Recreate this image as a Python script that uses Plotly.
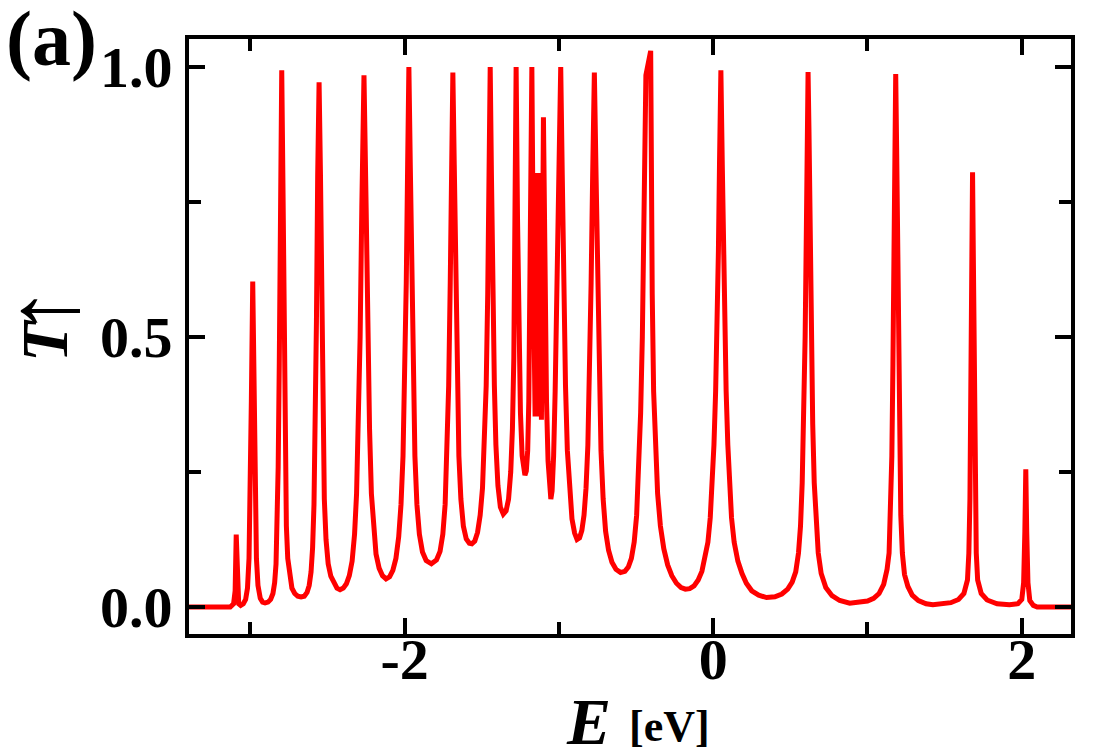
import plotly.graph_objects as go

# ---- data (E in eV, spin-up transmission) ----
energy_ev = [
    -3.397, -3.130, -3.108, -3.098, -3.091, -3.084, -3.075, -3.062,
    -3.045, -3.030, -3.018, -3.008, -3.000, -2.993, -2.984, -2.975,
    -2.968, -2.960, -2.950, -2.935, -2.920, -2.904, -2.885, -2.868,
    -2.853, -2.842, -2.833, -2.826, -2.819, -2.812, -2.805, -2.796,
    -2.787, -2.780, -2.773, -2.766, -2.757, -2.745, -2.730, -2.712,
    -2.692, -2.671, -2.650, -2.632, -2.618, -2.606, -2.596, -2.587,
    -2.579, -2.571, -2.563, -2.554, -2.545, -2.537, -2.529, -2.520,
    -2.509, -2.495, -2.478, -2.458, -2.438, -2.418, -2.397, -2.377,
    -2.358, -2.340, -2.324, -2.311, -2.299, -2.288, -2.277, -2.263,
    -2.249, -2.238, -2.227, -2.215, -2.201, -2.185, -2.165, -2.143,
    -2.120, -2.097, -2.076, -2.056, -2.038, -2.023, -2.010, -1.999,
    -1.989, -1.980, -1.972, -1.963, -1.954, -1.944, -1.933, -1.920,
    -1.904, -1.884, -1.860, -1.826, -1.793, -1.770, -1.752, -1.737,
    -1.725, -1.714, -1.704, -1.695, -1.687, -1.678, -1.669, -1.659,
    -1.648, -1.635, -1.619, -1.600, -1.580, -1.564, -1.545, -1.527,
    -1.510, -1.495, -1.482, -1.471, -1.461, -1.452, -1.445, -1.437,
    -1.428, -1.418, -1.408, -1.395, -1.379, -1.360, -1.342, -1.326,
    -1.312, -1.301, -1.292, -1.284, -1.277, -1.268, -1.259, -1.249,
    -1.238, -1.228, -1.220, -1.211, -1.202, -1.195, -1.188, -1.181,
    -1.175, -1.165, -1.154, -1.143, -1.133, -1.126, -1.113, -1.100,
    -1.090, -1.080, -1.070, -1.060, -1.052, -1.044, -1.034, -1.024,
    -1.013, -1.002, -0.988, -0.978, -0.968, -0.957, -0.945, -0.931,
    -0.915, -0.898, -0.882, -0.866, -0.851, -0.837, -0.824, -0.812,
    -0.801, -0.791, -0.781, -0.770, -0.759, -0.749, -0.739, -0.727,
    -0.713, -0.697, -0.678, -0.656, -0.630, -0.600, -0.572, -0.550,
    -0.530, -0.512, -0.496, -0.482, -0.470, -0.459, -0.449, -0.440,
    -0.436, -0.405, -0.401, -0.395, -0.386, -0.375, -0.360, -0.342,
    -0.320, -0.295, -0.268, -0.238, -0.208, -0.180, -0.152, -0.124,
    -0.097, -0.073, -0.052, -0.034, -0.019, -0.006, 0.005, 0.016,
    0.026, 0.034, 0.041, 0.050, 0.059, 0.066, 0.074, 0.084,
    0.095, 0.106, 0.119, 0.136, 0.160, 0.187, 0.215, 0.250,
    0.295, 0.346, 0.400, 0.445, 0.483, 0.512, 0.535, 0.553,
    0.566, 0.577, 0.587, 0.596, 0.604, 0.610, 0.615, 0.621,
    0.628, 0.636, 0.645, 0.655, 0.667, 0.681, 0.700, 0.730,
    0.770, 0.820, 0.885, 0.950, 1.000, 1.040, 1.075, 1.105,
    1.127, 1.140, 1.150, 1.158, 1.165, 1.171, 1.177, 1.183,
    1.189, 1.195, 1.201, 1.208, 1.216, 1.226, 1.240, 1.262,
    1.290, 1.330, 1.380, 1.424, 1.480, 1.540, 1.590, 1.625,
    1.648, 1.657, 1.664, 1.671, 1.676, 1.681, 1.686, 1.691,
    1.698, 1.705, 1.714, 1.737, 1.775, 1.840, 1.920, 1.975,
    2.000, 2.012, 2.020, 2.026, 2.032, 2.040, 2.052, 2.075,
    2.100, 2.319,
]

transmission_up = [
    0.000, 0.000, 0.006, 0.030, 0.134, 0.030, 0.006, 0.003,
    0.006, 0.014, 0.035, 0.090, 0.200, 0.380, 0.603, 0.380,
    0.200, 0.090, 0.040, 0.016, 0.009, 0.0075, 0.009, 0.014,
    0.025, 0.045, 0.080, 0.140, 0.260, 0.450, 0.750, 0.994,
    0.750, 0.450, 0.260, 0.150, 0.090, 0.055, 0.035, 0.025,
    0.020, 0.0185, 0.020, 0.027, 0.040, 0.065, 0.110, 0.190,
    0.330, 0.530, 0.800, 0.972, 0.800, 0.530, 0.330, 0.200,
    0.125, 0.080, 0.057, 0.043, 0.035, 0.032, 0.035, 0.043,
    0.058, 0.085, 0.135, 0.210, 0.330, 0.500, 0.740, 0.985,
    0.740, 0.500, 0.330, 0.210, 0.140, 0.098, 0.072, 0.058,
    0.052, 0.056, 0.068, 0.090, 0.130, 0.190, 0.280, 0.410,
    0.600, 0.820, 1.000, 0.820, 0.600, 0.410, 0.280, 0.190,
    0.135, 0.102, 0.086, 0.080, 0.087, 0.103, 0.135, 0.190,
    0.280, 0.410, 0.600, 0.820, 0.990, 0.820, 0.600, 0.410,
    0.280, 0.200, 0.150, 0.126, 0.118, 0.117, 0.122, 0.138,
    0.170, 0.220, 0.300, 0.410, 0.580, 0.800, 1.000, 0.800,
    0.580, 0.410, 0.300, 0.225, 0.185, 0.172, 0.178, 0.200,
    0.250, 0.330, 0.460, 0.680, 1.000, 0.720, 0.500, 0.360,
    0.280, 0.250, 0.244, 0.252, 0.290, 0.380, 0.560, 0.800,
    1.000, 0.618, 0.353, 0.804, 0.353, 0.804, 0.347, 0.907,
    0.600, 0.380, 0.270, 0.215, 0.200, 0.215, 0.280, 0.400,
    0.580, 0.800, 1.000, 0.800, 0.580, 0.410, 0.290, 0.210,
    0.163, 0.137, 0.125, 0.128, 0.142, 0.170, 0.220, 0.300,
    0.420, 0.600, 0.800, 0.990, 0.800, 0.600, 0.420, 0.290,
    0.200, 0.140, 0.105, 0.083, 0.070, 0.064, 0.066, 0.074,
    0.090, 0.120, 0.170, 0.250, 0.360, 0.500, 0.700, 0.900,
    0.985, 1.030, 0.800, 0.580, 0.400, 0.290, 0.210, 0.150,
    0.108, 0.078, 0.058, 0.044, 0.036, 0.033, 0.034, 0.039,
    0.050, 0.066, 0.090, 0.120, 0.165, 0.220, 0.300, 0.400,
    0.520, 0.660, 0.820, 0.994, 0.820, 0.660, 0.520, 0.400,
    0.300, 0.220, 0.165, 0.120, 0.085, 0.062, 0.044, 0.030,
    0.022, 0.0175, 0.019, 0.024, 0.033, 0.046, 0.065, 0.100,
    0.150, 0.230, 0.340, 0.500, 0.700, 0.880, 0.991, 0.880,
    0.700, 0.500, 0.340, 0.230, 0.150, 0.100, 0.062, 0.036,
    0.021, 0.012, 0.007, 0.008, 0.011, 0.016, 0.025, 0.042,
    0.070, 0.100, 0.170, 0.280, 0.450, 0.650, 0.850, 0.987,
    0.850, 0.650, 0.450, 0.280, 0.170, 0.100, 0.060, 0.038,
    0.022, 0.012, 0.006, 0.004, 0.005, 0.008, 0.014, 0.025,
    0.050, 0.100, 0.200, 0.420, 0.650, 0.805, 0.650, 0.420,
    0.200, 0.100, 0.050, 0.025, 0.013, 0.006, 0.004, 0.006,
    0.014, 0.045, 0.140, 0.255, 0.140, 0.045, 0.012, 0.003,
    0.000, 0.000,
]

x_tick_values = [-2, 0, 2]
x_tick_labels = ["-2", "0", "2"]
x_minor_values = [-3, -1, 1]
y_tick_values = [0.0, 0.5, 1.0]
y_tick_labels = ["0.0", "0.5", "1.0"]
y_minor_values = [0.25, 0.75]

SERIF = "Liberation Serif, Times New Roman, DejaVu Serif, serif"

fig = go.Figure()
fig.add_trace(go.Scatter(
    x=energy_ev, y=transmission_up, mode="lines",
    line=dict(color="#ff0000", width=5),
    showlegend=False, hoverinfo="skip",
))

axis_common = dict(
    showline=True, linewidth=4, linecolor="black", mirror="ticks",
    ticks="inside", ticklen=16, tickwidth=4, tickcolor="black",
    showgrid=False, zeroline=False,
    tickfont=dict(family=SERIF, size=58, color="black", weight="bold"),
)

fig.update_xaxes(
    range=[-3.397, 2.319], tickmode="array",
    tickvals=x_tick_values, ticktext=x_tick_labels,
    minor=dict(tickmode="array", tickvals=x_minor_values, ticks="inside",
               ticklen=12, tickwidth=4, tickcolor="black", showgrid=False),
    ticklabelstandoff=-29,
    **axis_common,
)
fig.update_yaxes(
    range=[-0.05, 1.052], tickmode="array",
    tickvals=y_tick_values, ticktext=y_tick_labels,
    minor=dict(tickmode="array", tickvals=y_minor_values, ticks="inside",
               ticklen=12, tickwidth=4, tickcolor="black", showgrid=False),
    ticklabelstandoff=1,
    **axis_common,
)

L, R, T, B = 188.7, 1071.0, 39.3, 634.3
W, H = 1100, 750


def px_to_paper(xp, yp):
    return (xp - L) / (R - L), (B - yp) / (B - T)


def label(xp, yp, text, size, angle=0):
    xx, yy = px_to_paper(xp, yp)
    return dict(x=xx, y=yy, xref="paper", yref="paper", showarrow=False,
                text=text, textangle=angle,
                font=dict(family=SERIF, size=size, color="black"),
                xanchor="center", yanchor="middle")


annots = [
    label(44, 341, "<b><i>T</i></b>", 66, -90),
    label(43, 311, "↑", 100, -90),
    label(588, 722, "<b><i>E</i></b>", 66),
    label(669, 727, "<b>[eV]</b>", 44),
    label(51, 39, "<b>(a)</b>", 78),
]

fig.update_layout(
    width=W, height=H,
    margin=dict(l=L, r=W - R, t=T, b=H - B, autoexpand=False),
    paper_bgcolor="white", plot_bgcolor="white",
    annotations=annots,
)

fig.write_html(
    "out.html",
    config={"displayModeBar": False},
    post_script="document.body.style.margin='0px';"
                "document.body.style.overflow='hidden';",
)
